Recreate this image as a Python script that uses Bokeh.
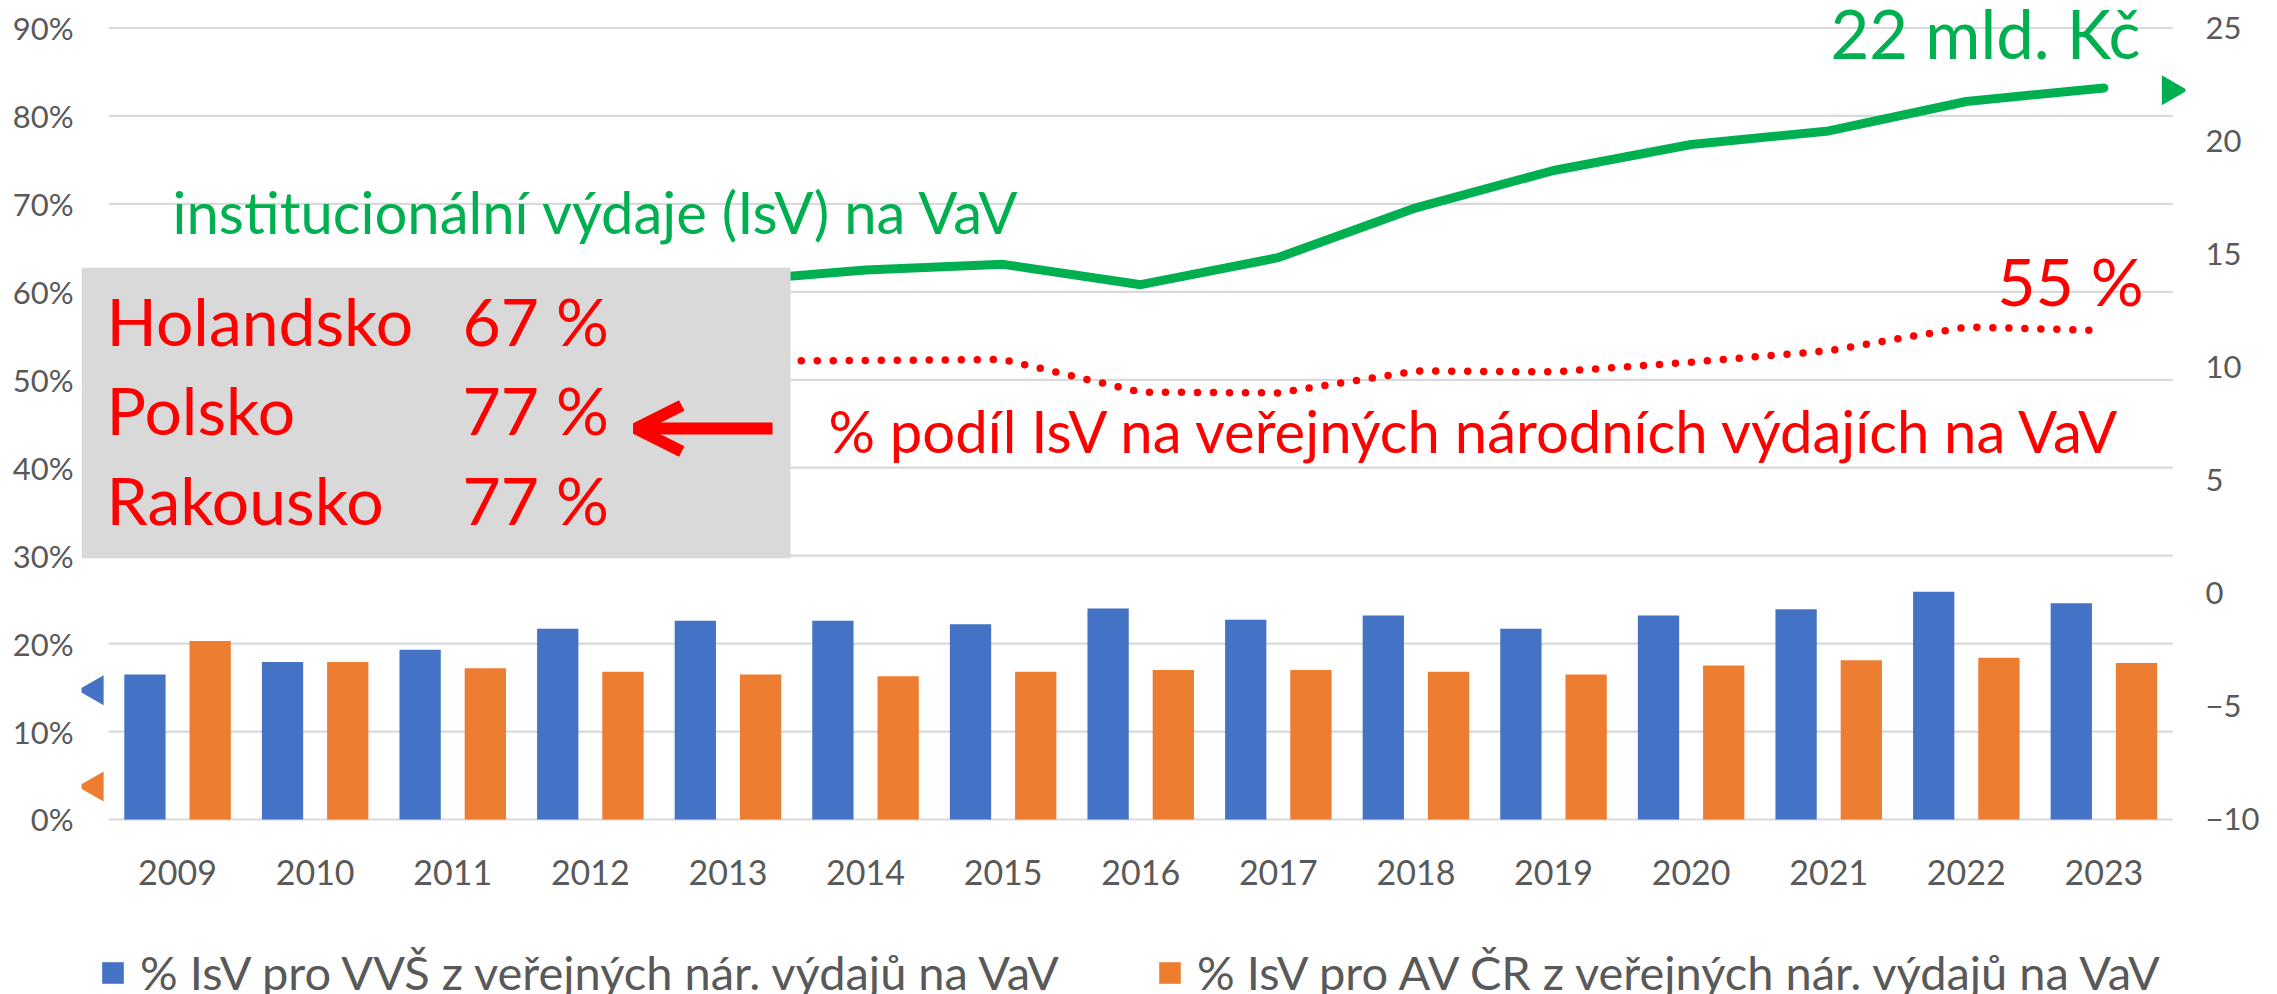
import math
from bokeh.plotting import figure
from bokeh.layouts import column
from bokeh.models import (Range1d, LinearAxis, FixedTicker, PrintfTickFormatter,
                          Legend, LegendItem, Arrow, OpenHead)
from bokeh.transform import dodge
from bokeh.core.properties import value
from bokeh.embed import file_html
from bokeh.resources import INLINE

# ---------------- data ----------------
years = [2009, 2010, 2011, 2012, 2013, 2014, 2015, 2016, 2017, 2018, 2019, 2020, 2021, 2022, 2023]
year_labels = [str(y) for y in years]
# % IsV pro VVŠ z veřejných nár. výdajů na VaV (left axis, %)
vvs_pct = [16.5, 17.9, 19.3, 21.7, 22.6, 22.6, 22.2, 24.0, 22.7, 23.2, 21.7, 23.2, 23.9, 25.9, 24.6]
# % IsV pro AV ČR z veřejných nár. výdajů na VaV (left axis, %)
av_pct = [20.3, 17.9, 17.2, 16.8, 16.5, 16.3, 16.8, 17.0, 17.0, 16.8, 16.5, 17.5, 18.1, 18.4, 17.8]
# institucionální výdaje (IsV) na VaV, mld. Kč (right axis) - 2009-2013 hidden behind the box, estimated
isv_bn = [12.6, 12.9, 13.2, 13.5, 13.8, 14.3, 14.55, 13.65, 14.85, 17.05, 18.7, 19.85, 20.45, 21.75, 22.35]
# % podíl IsV na veřejných národních výdajích na VaV (left axis, %) - 2009-2013 hidden, estimated
isv_share_pct = [53.5, 52.8, 52.2, 52.4, 52.1, 52.2, 52.3, 48.6, 48.5, 51.0, 50.9, 52.0, 53.3, 56.0, 55.6]

left_ticks = [0, 10, 20, 30, 40, 50, 60, 70, 80, 90]
right_ticks = [-10, -5, 0, 5, 10, 15, 20, 25]

box_countries = ["Holandsko", "Polsko", "Rakousko"]
box_values = ["67 %", "77 %", "77 %"]

legend_labels = ["% IsV pro VVŠ z veřejných nár. výdajů na VaV",
                 "% IsV pro AV ČR z veřejných nár. výdajů na VaV"]
title_green = "institucionální výdaje (IsV) na VaV"
title_red = "% podíl IsV na veřejných národních výdajích na VaV"
end_green = "22 mld. Kč"
end_red = "55 %"

# ---------------- styling ----------------
FONT = "Lato"
BLUE = "#4472c4"
ORANGE = "#ed7d31"
GREEN = "#00b050"
RED = "#ff0000"
GRID = "#d9d9d9"
AXIS_TXT = "#595959"

W = 2270
H_MAIN, H_LEG = 926, 68
FR_L, FR_R, FR_T, FR_B = 81, 2185, 0, 821
X_RANGE = (2008.302, 2023.593)
LEFT_Y = (-0.23, 93.13)
RIGHT_Y = (-10 + LEFT_Y[0] * 35 / 90, -10 + LEFT_Y[1] * 35 / 90)

p = figure(width=W, height=H_MAIN, output_backend="svg", toolbar_location=None,
           x_range=Range1d(*X_RANGE), y_range=Range1d(*LEFT_Y),
           min_border_left=FR_L, min_border_right=W - FR_R, min_border_top=FR_T,
           min_border_bottom=H_MAIN - FR_B)
p.outline_line_color = None
p.background_fill_color = "white"
p.xgrid.visible = False
p.ygrid.visible = False
p.extra_y_ranges = {"right": Range1d(*RIGHT_Y)}

# gridlines spanning the category band
p.segment(x0=years[0] - 0.5, x1=years[-1] + 0.5, y0=left_ticks, y1=left_ticks,
          line_color=GRID, line_width=2.2)

# bars
src = dict(year=years, vvs=vvs_pct, av=av_pct)
b1 = p.vbar(x=dodge("year", -0.237), top="vvs", width=0.30, source=src,
            fill_color=BLUE, line_color=None)
b2 = p.vbar(x=dodge("year", 0.237), top="av", width=0.30, source=src,
            fill_color=ORANGE, line_color=None)

# lines
p.line(years, isv_bn, y_range_name="right", line_color=GREEN, line_width=9,
       line_join="round", line_cap="round")
p.line(years, isv_share_pct, line_color=RED, line_width=7.5, line_cap="round",
       line_dash="0 16", line_join="round")

# grey box (covers the beginning of both lines)
p.quad(left=X_RANGE[0], right=2013.455, bottom=29.7, top=62.75,
       fill_color="#d9d9d9", line_color=None)

box_y = [56.71, 46.59, 36.35]
p.text(x=[2008.484] * 3, y=box_y, text=box_countries, text_color=RED,
       text_font=value(FONT), text_font_size="66px", text_baseline="alphabetic")
p.text(x=[2011.071] * 3, y=box_y, text=box_values, text_color=RED,
       text_font=value(FONT), text_font_size="66px", text_baseline="alphabetic")

# arrow
p.add_layout(Arrow(end=OpenHead(size=46, line_color=RED, line_width=12),
                   x_start=2013.324, y_start=44.46, x_end=2012.33, y_end=44.46,
                   line_color=RED, line_width=12))

# line captions
p.text(x=[2008.964], y=[69.08], text=[title_green], text_color=GREEN,
       text_font=value(FONT), text_font_size="58px", text_baseline="alphabetic")
p.text(x=[2013.731], y=[44.19], text=[title_red], text_color=RED,
       text_font=value(FONT), text_font_size="58px", text_baseline="alphabetic")
p.text(x=[2023.266], y=[89.39], text=[end_green], text_color=GREEN,
       text_font=value(FONT), text_font_size="67px", text_baseline="alphabetic",
       text_align="right")
p.text(x=[2023.288], y=[61.26], text=[end_red], text_color=RED,
       text_font=value(FONT), text_font_size="66px", text_baseline="alphabetic",
       text_align="right")

# axis pointer triangles
p.scatter(x=[2008.40, 2008.40], y=[14.7, 3.75], marker="triangle", size=30,
          angle=math.pi / 2, fill_color=[BLUE, ORANGE], line_color=None)
p.scatter(x=[2023.484], y=[22.25], y_range_name="right", marker="triangle", size=30,
          angle=-math.pi / 2, fill_color=GREEN, line_color=None)

# axes
def style_axis(ax, size, standoff):
    ax.axis_line_color = None
    ax.major_tick_line_color = None
    ax.minor_tick_line_color = None
    ax.major_tick_out = 0
    ax.major_tick_in = 0
    ax.major_label_text_font = FONT
    ax.major_label_text_font_size = size
    ax.major_label_text_color = AXIS_TXT
    ax.major_label_standoff = standoff

p.yaxis.ticker = FixedTicker(ticks=left_ticks)
p.yaxis.formatter = PrintfTickFormatter(format="%d%%")
style_axis(p.yaxis[0], "31px", 8)

right_axis = LinearAxis(y_range_name="right", ticker=FixedTicker(ticks=right_ticks))
style_axis(right_axis, "31px", 20)
p.add_layout(right_axis, "right")

p.xaxis.ticker = FixedTicker(ticks=years)
p.xaxis.major_label_overrides = {y: lab for y, lab in zip(years, year_labels)}
style_axis(p.xaxis[0], "34px", 38)

# ---------------- legend strip below the chart ----------------
# (its frame is aligned with the main chart's frame by the column layout)
pl = figure(width=W, height=H_LEG, output_backend="svg", toolbar_location=None,
            x_range=Range1d(*X_RANGE), y_range=Range1d(100, 200),
            x_axis_location=None, y_axis_location=None,
            min_border_left=FR_L, min_border_right=W - FR_R, min_border_top=0,
            min_border_bottom=0)
pl.outline_line_color = None
pl.grid.visible = False
# same series; their bars lie below this strip's view, so only the legend swatches show
lb1 = pl.vbar(x=dodge("year", -0.237), top="vvs", width=0.3, source=src,
              fill_color=BLUE, line_color=None)
lb2 = pl.vbar(x=dodge("year", 0.237), top="av", width=0.3, source=src,
              fill_color=ORANGE, line_color=None)
lg = Legend(items=[LegendItem(label=legend_labels[0], renderers=[lb1]),
                   LegendItem(label=legend_labels[1], renderers=[lb2])],
            location=(18, -6), orientation="horizontal", spacing=0,
            glyph_width=27, glyph_height=27, label_standoff=14, label_width=1016,
            padding=0, margin=0, border_line_color=None, background_fill_alpha=0,
            label_text_font=FONT, label_text_font_size="47px",
            label_text_color=AXIS_TXT)
pl.add_layout(lg, "center")

layout = column(p, pl, spacing=0)
open("out.html", "w").write(file_html(layout, INLINE))
